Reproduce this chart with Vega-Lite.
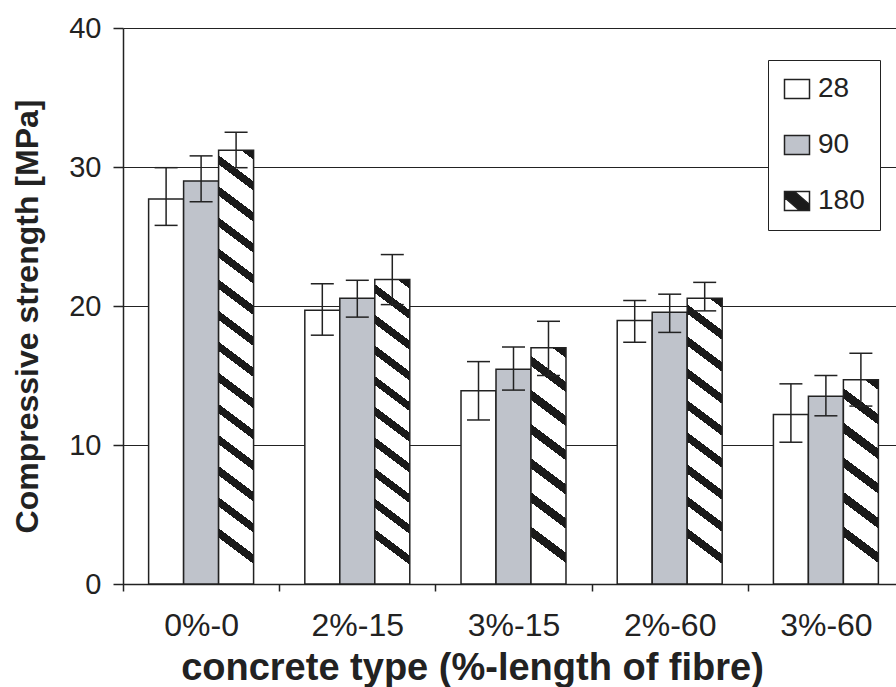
{
  "$schema": "https://vega.github.io/schema/vega-lite/v6.json",
  "width": 773,
  "height": 556,
  "autosize": {"type": "none"},
  "padding": {"left": 123, "top": 28, "right": 0, "bottom": 103},
  "background": "white",
  "config": {
    "view": {"stroke": null},
    "font": "Liberation Sans",
    "legend": {
      "orient": "none",
      "legendX": 645,
      "legendY": 32,
      "fillColor": "white",
      "strokeColor": "#222",
      "padding": 15,
      "symbolType": "M-1.25,-0.95H1.25V0.95H-1.25Z",
      "symbolSize": 400,
      "symbolStrokeColor": "#222",
      "symbolStrokeWidth": 1.5,
      "symbolOpacity": 1,
      "labelFontSize": 28,
      "labelColor": "#222",
      "labelOffset": 7,
      "rowPadding": 28
    }
  },
  "data": {
    "values": [
      {"type": "0%-0", "age": "28", "value": 27.7, "lo": 25.8, "hi": 29.95},
      {"type": "0%-0", "age": "90", "value": 29.0, "lo": 27.5, "hi": 30.8},
      {"type": "0%-0", "age": "180", "value": 31.2, "lo": 29.95, "hi": 32.5},
      {"type": "2%-15", "age": "28", "value": 19.7, "lo": 17.9, "hi": 21.6},
      {"type": "2%-15", "age": "90", "value": 20.55, "lo": 19.2, "hi": 21.85},
      {"type": "2%-15", "age": "180", "value": 21.9, "lo": 20.1, "hi": 23.7},
      {"type": "3%-15", "age": "28", "value": 13.9, "lo": 11.8, "hi": 16.0},
      {"type": "3%-15", "age": "90", "value": 15.45, "lo": 13.95, "hi": 17.05},
      {"type": "3%-15", "age": "180", "value": 17.0, "lo": 15.0, "hi": 18.9},
      {"type": "2%-60", "age": "28", "value": 18.95, "lo": 17.4, "hi": 20.4},
      {"type": "2%-60", "age": "90", "value": 19.55, "lo": 18.1, "hi": 20.85},
      {"type": "2%-60", "age": "180", "value": 20.55, "lo": 19.65, "hi": 21.7},
      {"type": "3%-60", "age": "28", "value": 12.2, "lo": 10.2, "hi": 14.4},
      {"type": "3%-60", "age": "90", "value": 13.5, "lo": 12.1, "hi": 15.0},
      {"type": "3%-60", "age": "180", "value": 14.7, "lo": 12.8, "hi": 16.6}
    ]
  },
  "encoding": {
    "x": {
      "field": "type",
      "type": "nominal",
      "sort": ["0%-0", "2%-15", "3%-15", "2%-60", "3%-60"],
      "scale": {"range": [0, 781], "paddingInner": 0, "paddingOuter": 0},
      "axis": {
        "title": "concrete type (%-length of fibre)",
        "labelAngle": 0,
        "labelFontSize": 32,
        "labelColor": "#222",
        "labelPadding": 19,
        "tickBand": "extent",
        "tickSize": 7,
        "tickColor": "#222",
        "tickWidth": 1.5,
        "domainColor": "#222",
        "domainWidth": 1.5,
        "titleFontSize": 38,
        "titleFontWeight": "bold",
        "titleColor": "#222",
        "titleX": 349,
        "titleY": 84,
        "titleBaseline": "middle"
      }
    },
    "xOffset": {
      "field": "age",
      "type": "nominal",
      "sort": ["28", "90", "180"],
      "scale": {"paddingInner": 0, "paddingOuter": 0.732}
    }
  },
  "layer": [
    {
      "mark": {"type": "bar", "stroke": "#222", "strokeWidth": 1.5},
      "encoding": {
        "y": {
          "field": "value",
          "type": "quantitative",
          "scale": {"domain": [0, 40]},
          "axis": {
            "values": [0, 10, 20, 30, 40],
            "grid": true,
            "gridColor": "#222",
            "gridWidth": 1.2,
            "domainColor": "#222",
            "domainWidth": 1.5,
            "tickColor": "#222",
            "tickWidth": 1.5,
            "tickSize": 10,
            "labelFontSize": 29,
            "labelColor": "#222",
            "labelPadding": 12,
            "titleFontSize": 32,
            "titleFontWeight": "bold",
            "titleColor": "#222",
            "titleX": -96,
            "titleY": 288,
            "titleBaseline": "middle"
          },
          "title": "Compressive strength [MPa]"
        },
        "fill": {
          "field": "age",
          "type": "nominal",
          "scale": {"domain": ["28", "90", "180"], "range": ["#ffffff", "#bfc3cb", "#1a1a1a"]},
          "legend": {
            "title": null,
            "encode": {
              "symbols": {
                "update": {
                  "shape": {"signal": "datum.index === 2 ? 'M-1.25,-0.95H1.25V0.95H-1.25Z M1.25,-0.95 L-0.25,-0.95 L1.25,0.35 Z M-1.25,0.95 L0.25,0.95 L-1.25,-0.35 Z' : 'M-1.25,-0.95H1.25V0.95H-1.25Z'"},
                  "fill": {"signal": "datum.index === 2 ? '#1a1a1a' : scale('fill', datum.value)"},
                  "stroke": {"value": "#222"},
                  "strokeWidth": {"value": 1.5},
                  "opacity": {"value": 1}
                }
              }
            }
          },
          "condition": [
            {"test": "datum.age === '180' && datum.type === '0%-0'", "value": {"gradient": "linear", "x1": 1, "y1": 0, "x2": 0.9395, "y2": 1, "stops": [{"offset":0,"color":"#1a1a1a"},{"offset":0.0214,"color":"#1a1a1a"},{"offset":0.0214,"color":"#fff"},{"offset":0.0714,"color":"#fff"},{"offset":0.0714,"color":"#1a1a1a"},{"offset":0.0929,"color":"#1a1a1a"},{"offset":0.0929,"color":"#fff"},{"offset":0.1429,"color":"#fff"},{"offset":0.1429,"color":"#1a1a1a"},{"offset":0.1643,"color":"#1a1a1a"},{"offset":0.1643,"color":"#fff"},{"offset":0.2143,"color":"#fff"},{"offset":0.2143,"color":"#1a1a1a"},{"offset":0.2357,"color":"#1a1a1a"},{"offset":0.2357,"color":"#fff"},{"offset":0.2857,"color":"#fff"},{"offset":0.2857,"color":"#1a1a1a"},{"offset":0.3071,"color":"#1a1a1a"},{"offset":0.3071,"color":"#fff"},{"offset":0.3571,"color":"#fff"},{"offset":0.3571,"color":"#1a1a1a"},{"offset":0.3786,"color":"#1a1a1a"},{"offset":0.3786,"color":"#fff"},{"offset":0.4286,"color":"#fff"},{"offset":0.4286,"color":"#1a1a1a"},{"offset":0.45,"color":"#1a1a1a"},{"offset":0.45,"color":"#fff"},{"offset":0.5,"color":"#fff"},{"offset":0.5,"color":"#1a1a1a"},{"offset":0.5214,"color":"#1a1a1a"},{"offset":0.5214,"color":"#fff"},{"offset":0.5714,"color":"#fff"},{"offset":0.5714,"color":"#1a1a1a"},{"offset":0.5929,"color":"#1a1a1a"},{"offset":0.5929,"color":"#fff"},{"offset":0.6429,"color":"#fff"},{"offset":0.6429,"color":"#1a1a1a"},{"offset":0.6643,"color":"#1a1a1a"},{"offset":0.6643,"color":"#fff"},{"offset":0.7143,"color":"#fff"},{"offset":0.7143,"color":"#1a1a1a"},{"offset":0.7357,"color":"#1a1a1a"},{"offset":0.7357,"color":"#fff"},{"offset":0.7857,"color":"#fff"},{"offset":0.7857,"color":"#1a1a1a"},{"offset":0.8071,"color":"#1a1a1a"},{"offset":0.8071,"color":"#fff"},{"offset":0.8571,"color":"#fff"},{"offset":0.8571,"color":"#1a1a1a"},{"offset":0.8786,"color":"#1a1a1a"},{"offset":0.8786,"color":"#fff"},{"offset":0.9286,"color":"#fff"},{"offset":0.9286,"color":"#1a1a1a"},{"offset":0.95,"color":"#1a1a1a"},{"offset":0.95,"color":"#fff"},{"offset":1,"color":"#fff"}]}},
            {"test": "datum.age === '180' && datum.type === '2%-15'", "value": {"gradient": "linear", "x1": 1, "y1": 0, "x2": 0.9138, "y2": 1, "stops": [{"offset":0,"color":"#1a1a1a"},{"offset":0.03,"color":"#1a1a1a"},{"offset":0.03,"color":"#fff"},{"offset":0.1,"color":"#fff"},{"offset":0.1,"color":"#1a1a1a"},{"offset":0.13,"color":"#1a1a1a"},{"offset":0.13,"color":"#fff"},{"offset":0.2,"color":"#fff"},{"offset":0.2,"color":"#1a1a1a"},{"offset":0.23,"color":"#1a1a1a"},{"offset":0.23,"color":"#fff"},{"offset":0.3,"color":"#fff"},{"offset":0.3,"color":"#1a1a1a"},{"offset":0.33,"color":"#1a1a1a"},{"offset":0.33,"color":"#fff"},{"offset":0.4,"color":"#fff"},{"offset":0.4,"color":"#1a1a1a"},{"offset":0.43,"color":"#1a1a1a"},{"offset":0.43,"color":"#fff"},{"offset":0.5,"color":"#fff"},{"offset":0.5,"color":"#1a1a1a"},{"offset":0.53,"color":"#1a1a1a"},{"offset":0.53,"color":"#fff"},{"offset":0.6,"color":"#fff"},{"offset":0.6,"color":"#1a1a1a"},{"offset":0.63,"color":"#1a1a1a"},{"offset":0.63,"color":"#fff"},{"offset":0.7,"color":"#fff"},{"offset":0.7,"color":"#1a1a1a"},{"offset":0.73,"color":"#1a1a1a"},{"offset":0.73,"color":"#fff"},{"offset":0.8,"color":"#fff"},{"offset":0.8,"color":"#1a1a1a"},{"offset":0.83,"color":"#1a1a1a"},{"offset":0.83,"color":"#fff"},{"offset":0.9,"color":"#fff"},{"offset":0.9,"color":"#1a1a1a"},{"offset":0.93,"color":"#1a1a1a"},{"offset":0.93,"color":"#fff"},{"offset":1,"color":"#fff"}]}},
            {"test": "datum.age === '180' && datum.type === '3%-15'", "value": {"gradient": "linear", "x1": 1, "y1": 0, "x2": 0.889, "y2": 1, "stops": [{"offset":0,"color":"#1a1a1a"},{"offset":0.0429,"color":"#1a1a1a"},{"offset":0.0429,"color":"#fff"},{"offset":0.1429,"color":"#fff"},{"offset":0.1429,"color":"#1a1a1a"},{"offset":0.1857,"color":"#1a1a1a"},{"offset":0.1857,"color":"#fff"},{"offset":0.2857,"color":"#fff"},{"offset":0.2857,"color":"#1a1a1a"},{"offset":0.3286,"color":"#1a1a1a"},{"offset":0.3286,"color":"#fff"},{"offset":0.4286,"color":"#fff"},{"offset":0.4286,"color":"#1a1a1a"},{"offset":0.4714,"color":"#1a1a1a"},{"offset":0.4714,"color":"#fff"},{"offset":0.5714,"color":"#fff"},{"offset":0.5714,"color":"#1a1a1a"},{"offset":0.6143,"color":"#1a1a1a"},{"offset":0.6143,"color":"#fff"},{"offset":0.7143,"color":"#fff"},{"offset":0.7143,"color":"#1a1a1a"},{"offset":0.7571,"color":"#1a1a1a"},{"offset":0.7571,"color":"#fff"},{"offset":0.8571,"color":"#fff"},{"offset":0.8571,"color":"#1a1a1a"},{"offset":0.9,"color":"#1a1a1a"},{"offset":0.9,"color":"#fff"},{"offset":1,"color":"#fff"}]}},
            {"test": "datum.age === '180' && datum.type === '2%-60'", "value": {"gradient": "linear", "x1": 1, "y1": 0, "x2": 0.9081, "y2": 1, "stops": [{"offset":0,"color":"#1a1a1a"},{"offset":0.0333,"color":"#1a1a1a"},{"offset":0.0333,"color":"#fff"},{"offset":0.1111,"color":"#fff"},{"offset":0.1111,"color":"#1a1a1a"},{"offset":0.1444,"color":"#1a1a1a"},{"offset":0.1444,"color":"#fff"},{"offset":0.2222,"color":"#fff"},{"offset":0.2222,"color":"#1a1a1a"},{"offset":0.2556,"color":"#1a1a1a"},{"offset":0.2556,"color":"#fff"},{"offset":0.3333,"color":"#fff"},{"offset":0.3333,"color":"#1a1a1a"},{"offset":0.3667,"color":"#1a1a1a"},{"offset":0.3667,"color":"#fff"},{"offset":0.4444,"color":"#fff"},{"offset":0.4444,"color":"#1a1a1a"},{"offset":0.4778,"color":"#1a1a1a"},{"offset":0.4778,"color":"#fff"},{"offset":0.5556,"color":"#fff"},{"offset":0.5556,"color":"#1a1a1a"},{"offset":0.5889,"color":"#1a1a1a"},{"offset":0.5889,"color":"#fff"},{"offset":0.6667,"color":"#fff"},{"offset":0.6667,"color":"#1a1a1a"},{"offset":0.7,"color":"#1a1a1a"},{"offset":0.7,"color":"#fff"},{"offset":0.7778,"color":"#fff"},{"offset":0.7778,"color":"#1a1a1a"},{"offset":0.8111,"color":"#1a1a1a"},{"offset":0.8111,"color":"#fff"},{"offset":0.8889,"color":"#fff"},{"offset":0.8889,"color":"#1a1a1a"},{"offset":0.9222,"color":"#1a1a1a"},{"offset":0.9222,"color":"#fff"},{"offset":1,"color":"#fff"}]}},
            {"test": "datum.age === '180' && datum.type === '3%-60'", "value": {"gradient": "linear", "x1": 1, "y1": 0, "x2": 0.8715, "y2": 1, "stops": [{"offset":0,"color":"#1a1a1a"},{"offset":0.05,"color":"#1a1a1a"},{"offset":0.05,"color":"#fff"},{"offset":0.1667,"color":"#fff"},{"offset":0.1667,"color":"#1a1a1a"},{"offset":0.2167,"color":"#1a1a1a"},{"offset":0.2167,"color":"#fff"},{"offset":0.3333,"color":"#fff"},{"offset":0.3333,"color":"#1a1a1a"},{"offset":0.3833,"color":"#1a1a1a"},{"offset":0.3833,"color":"#fff"},{"offset":0.5,"color":"#fff"},{"offset":0.5,"color":"#1a1a1a"},{"offset":0.55,"color":"#1a1a1a"},{"offset":0.55,"color":"#fff"},{"offset":0.6667,"color":"#fff"},{"offset":0.6667,"color":"#1a1a1a"},{"offset":0.7167,"color":"#1a1a1a"},{"offset":0.7167,"color":"#fff"},{"offset":0.8333,"color":"#fff"},{"offset":0.8333,"color":"#1a1a1a"},{"offset":0.8833,"color":"#1a1a1a"},{"offset":0.8833,"color":"#fff"},{"offset":1,"color":"#fff"}]}}
          ]
        }
      }
    },
    {
      "mark": {"type": "rule", "stroke": "#222", "strokeWidth": 1.5},
      "encoding": {
        "y": {"field": "lo", "type": "quantitative", "title": "Compressive strength [MPa]"},
        "y2": {"field": "hi"}
      }
    },
    {
      "mark": {"type": "tick", "color": "#222", "thickness": 1.5, "size": 23, "opacity": 1},
      "encoding": {
        "y": {"field": "lo", "type": "quantitative", "title": "Compressive strength [MPa]"}
      }
    },
    {
      "mark": {"type": "tick", "color": "#222", "thickness": 1.5, "size": 23, "opacity": 1},
      "encoding": {
        "y": {"field": "hi", "type": "quantitative", "title": "Compressive strength [MPa]"}
      }
    }
  ]
}
